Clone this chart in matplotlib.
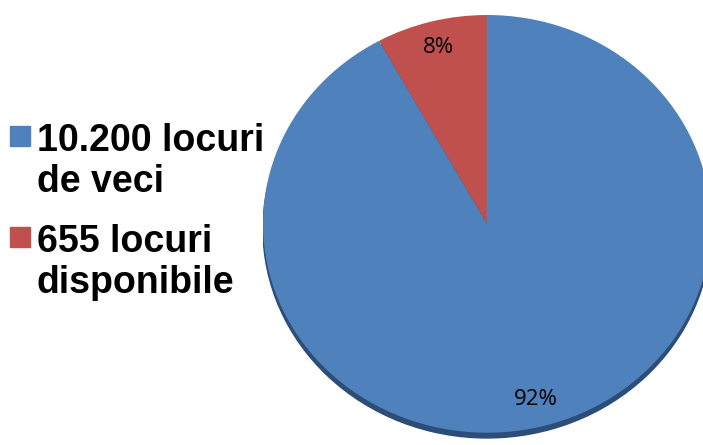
import matplotlib.pyplot as plt
from matplotlib.patches import Ellipse, Rectangle

labels = ["10.200 locuri\nde veci", "655 locuri\ndisponibile"]
values = [92, 8]
colors = ["#4F81BD", "#C0504D"]

W, H = 703, 445
fig = plt.figure(figsize=(W / 100, H / 100), dpi=100)
ax = fig.add_axes([263 / W, 6 / H, 448 / W, 424 / H])

# dark rim under the pie
ax.add_patch(Ellipse((0, -0.025), 2.0, 2.0, color="#2b4d78", zorder=0))

wedges, texts, autotexts = ax.pie(values, colors=colors, startangle=90, counterclock=False,
                                  autopct="%d%%", pctdistance=0.87, radius=1.0,
                                  wedgeprops=dict(linewidth=0),
                                  textprops=dict(fontsize=16, family="Open Sans"))
ax.set_aspect("auto")
ax.set_xlim(-1, 1)
ax.set_ylim(-1.03, 1)
ax.axis("off")

# legend drawn by hand so the square sits on the first line
for i, (lab, col) in enumerate(zip(labels, colors)):
    top = 126 + i * 101
    fig.patches.append(Rectangle((10 / W, 1 - (top + 20) / H), 20 / W, 20 / H,
                                 transform=fig.transFigure, color=col))
    # baseline of the last line of the label
    fig.text(37 / W, 1 - (top + 24 + 42) / H, lab, ha="left", va="baseline",
             family="Liberation Sans", weight="bold", fontsize=27, linespacing=1.18)

fig.savefig("out.png", dpi=100)
